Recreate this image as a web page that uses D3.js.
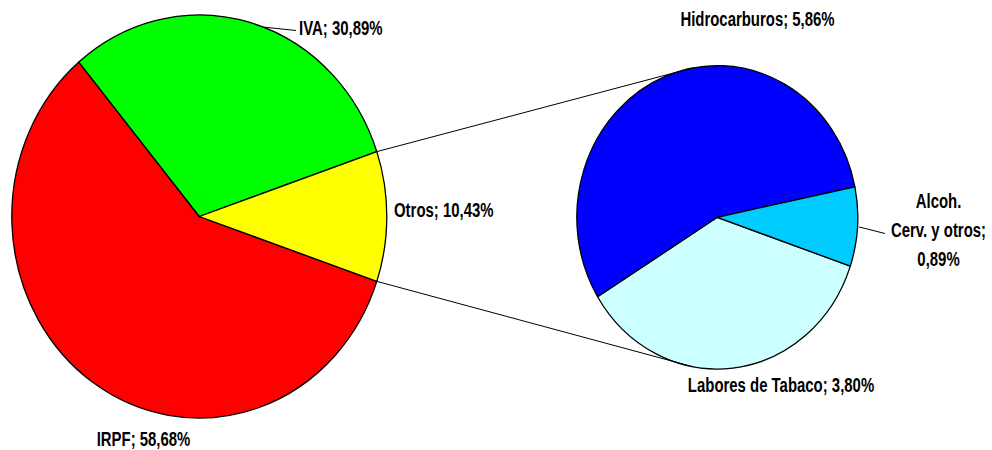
<!DOCTYPE html>
<html>
<head>
<meta charset="utf-8">
<script src="https://cdn.jsdelivr.net/npm/d3@7"></script>
<style>
  body { margin: 0; background: #fff; }
  svg { display: block; }
  text { font-family: 'Liberation Sans', Arial, sans-serif; font-weight: bold; font-size: 18px; fill: #000; }
</style>
</head>
<body>
<svg id="chart"></svg>
<script>
// datos del gráfico principal
const mainNames = ['IRPF', 'IVA', 'Otros'];
const mainValues = [58.68, 30.89, 10.43];
const mainColors = ['#ff0000', '#00ff00', '#ffff00'];

// desglose de "Otros"
const subNames = ['Labores de Tabaco', 'Hidrocarburos', 'Alcoh.\nCerv. y otros'];
const subValues = [3.80, 5.86, 0.89];
const subColors = ['#ccffff', '#0000ff', '#00ccff'];

const width = 992, height = 450;
const svg = d3.select('#chart').attr('width', width).attr('height', height);

const fmt = v => d3.format('.2f')(v).replace('.', ',') + '%';
const rad = deg => deg * Math.PI / 180;

// posiciones de los círculos (ligeramente estirados en vertical)
const left = { cx: 199.3, cy: 216.5, r: 187.5, sy: 1.075 };
const right = { cx: 717.3, cy: 217.3, r: 140.5, sy: 1.08 };

// el trozo "Otros" centrado a la derecha (90°)
const otrosFrac = mainValues[2] / d3.sum(mainValues);
const startAngle = Math.PI / 2 + otrosFrac * Math.PI;

function drawPie(geo, values, colors) {
  const pie = d3.pie().sort(null).value(d => d)
    .startAngle(startAngle).endAngle(startAngle + 2 * Math.PI);
  const arc = d3.arc().innerRadius(0).outerRadius(geo.r);
  const arcs = pie(values);
  const g = svg.append('g')
    .attr('transform', 'translate(' + geo.cx + ',' + geo.cy + ') scale(1,' + geo.sy + ')');
  g.selectAll('path')
    .data(arcs)
    .enter()
    .append('path')
    .attr('d', arc)
    .attr('fill', (d, i) => colors[i])
    .attr('stroke', '#000')
    .attr('stroke-width', 1.3)
    .attr('stroke-linejoin', 'round')
    .attr('vector-effect', 'non-scaling-stroke');
  return arcs;
}

// punto en el borde de un círculo (ángulo en radianes, sentido horario desde arriba)
function edge(geo, a, k) {
  k = k || 1;
  return [geo.cx + geo.r * k * Math.sin(a), geo.cy - geo.r * k * geo.sy * Math.cos(a)];
}

const mainArcs = drawPie(left, mainValues, mainColors);
const subArcs = drawPie(right, subValues, subColors);

// líneas de unión entre "Otros" y el segundo círculo
const otros = mainArcs[2];
const links = [
  [edge(left, otros.startAngle), edge(right, rad(-10))],
  [edge(left, otros.endAngle), edge(right, rad(190))]
];
svg.selectAll('line.link')
  .data(links)
  .enter()
  .append('line')
  .attr('class', 'link')
  .attr('x1', d => d[0][0]).attr('y1', d => d[0][1])
  .attr('x2', d => d[1][0]).attr('y2', d => d[1][1])
  .attr('stroke', '#000')
  .attr('stroke-width', 1);

// etiquetas (letra estrecha: Arial comprimida en horizontal)
const sx = 0.83, sy = 1.075;
const labelPos = {
  'IRPF': { x: 143.5, y: 446, anchor: 'middle' },
  'IVA': { x: 299, y: 35, anchor: 'start' },
  'Otros': { x: 394, y: 217, anchor: 'start' },
  'Hidrocarburos': { x: 757.5, y: 26, anchor: 'middle' },
  'Labores de Tabaco': { x: 781, y: 392, anchor: 'middle' },
  'Alcoh.\nCerv. y otros': { x: 938.5, y: 208, anchor: 'middle' }
};

function addLabel(name, value) {
  const p = labelPos[name];
  const lines = (name + '; ' + fmt(value)).split('\n');
  // el valor de la etiqueta partida va en su propia línea
  if (lines.length > 1) {
    const last = lines.pop().split(' ');
    const val = last.pop();
    lines.push(last.join(' '), val);
  }
  const t = svg.append('text')
    .attr('text-anchor', p.anchor)
    .attr('transform', 'translate(' + p.x + ',' + p.y + ') scale(' + sx + ',' + sy + ')');
  lines.forEach((s, i) => {
    t.append('tspan').attr('x', 0).attr('dy', i === 0 ? 0 : 29 / sy).text(s);
  });
}

mainNames.forEach((n, i) => addLabel(n, mainValues[i]));
subNames.forEach((n, i) => addLabel(n, subValues[i]));

// líneas guía de IVA y Alcoh.
const ivaStart = edge(left, rad(20));
const alcMid = (subArcs[2].startAngle + subArcs[2].endAngle) / 2;
const alcStart = edge(right, alcMid, 1.01);
const leaders = [
  [ivaStart, [296, 30.5]],
  [alcStart, [885, 233.5]]
];
svg.selectAll('line.leader')
  .data(leaders)
  .enter()
  .append('line')
  .attr('class', 'leader')
  .attr('x1', d => d[0][0]).attr('y1', d => d[0][1])
  .attr('x2', d => d[1][0]).attr('y2', d => d[1][1])
  .attr('stroke', '#000')
  .attr('stroke-width', 1);
</script>
</body>
</html>
